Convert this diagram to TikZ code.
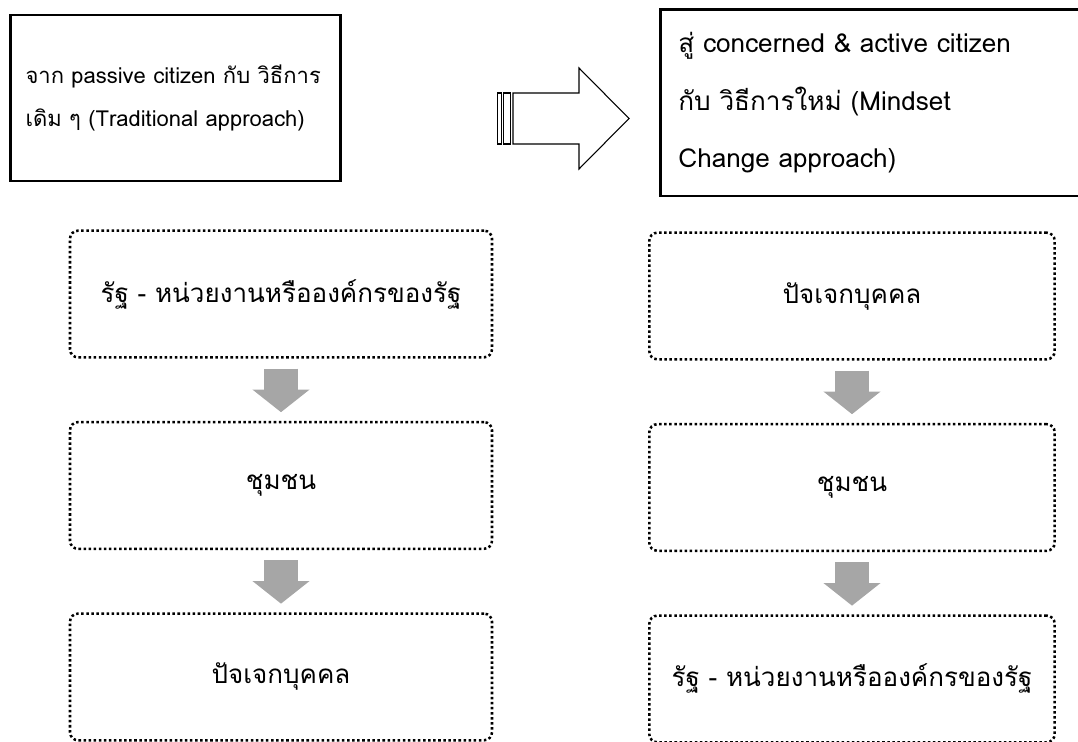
\documentclass[tikz,border=0pt]{standalone}
\usepackage{fontspec}
\setmainfont[Script=Thai]{Loma}
\usepackage{tikz}
\usetikzlibrary{positioning, arrows.meta}
\definecolor{arrowgray}{HTML}{A6A6A6}

\begin{document}
\begin{tikzpicture}[x=0.75pt, y=-0.75pt, node distance=143.6pt, on grid,
  topbox/.style={draw, line width=2.1pt, inner sep=0pt},
  level/.style={draw, dash pattern=on 1.9pt off 1.9pt, line width=1.9pt, rounded corners=6pt,
                minimum height=95pt, font=\fontsize{19.5}{24}\selectfont},
  flow/.style={arrowgray, line width=26pt, -{Triangle[width=42pt, length=17pt]},
               shorten <=7.5pt, shorten >=6.5pt}]
   \useasboundingbox (0,0) rectangle (1078,742);
   \clip (0,0) rectangle (1078,742);

   \node[topbox, text width=225pt, inner xsep=11.5pt, minimum height=124.5pt, align=left,
         font=\fontsize{16.5}{32}\selectfont] (from) at (175.5,98)
         {จาก passive citizen กับ วิธีการ\\เดิม ๆ (Traditional approach)};
   \node[topbox, anchor=north west, text width=296pt, inner xsep=13.5pt, minimum height=140pt,
         align=left, font=\fontsize{19.6}{43}\selectfont] (to) at (659,8)
         {สู่ concerned \& active citizen\\กับ วิธีการใหม่ (Mindset\\Change approach)};

   % hollow arrow between the two approaches
   \draw[line width=0.8pt] (513,93) -- (579,93) -- (579,68) -- (629,118.5) -- (579,169)
        -- (579,144) -- (513,144) -- cycle;
   \draw[line width=0.8pt] (497.5,93) rectangle (501.5,144) (503.5,93) rectangle (510.5,144);

   \node[level, minimum width=316.5pt] (l_1) at (281,294) {รัฐ - หน่วยงานหรือองค์กรของรัฐ};
   \node[level, minimum width=316.5pt] (l_2) [below=of l_1] {ชุมชน};
   \node[level, minimum width=316.5pt] (l_3) [below=of l_2] {ปัจเจกบุคคล};

   \node[level, minimum width=304pt] (r_1) at (852,296) {ปัจเจกบุคคล};
   \node[level, minimum width=304pt] (r_2) [below=of r_1] {ชุมชน};
   \node[level, minimum width=304pt] (r_3) [below=of r_2] {รัฐ - หน่วยงานหรือองค์กรของรัฐ};

   \draw[flow] (l_1) -- (l_2);
   \draw[flow] (l_2) -- (l_3);
   \draw[flow] (r_1) -- (r_2);
   \draw[flow] (r_2) -- (r_3);
\end{tikzpicture}
\end{document}
